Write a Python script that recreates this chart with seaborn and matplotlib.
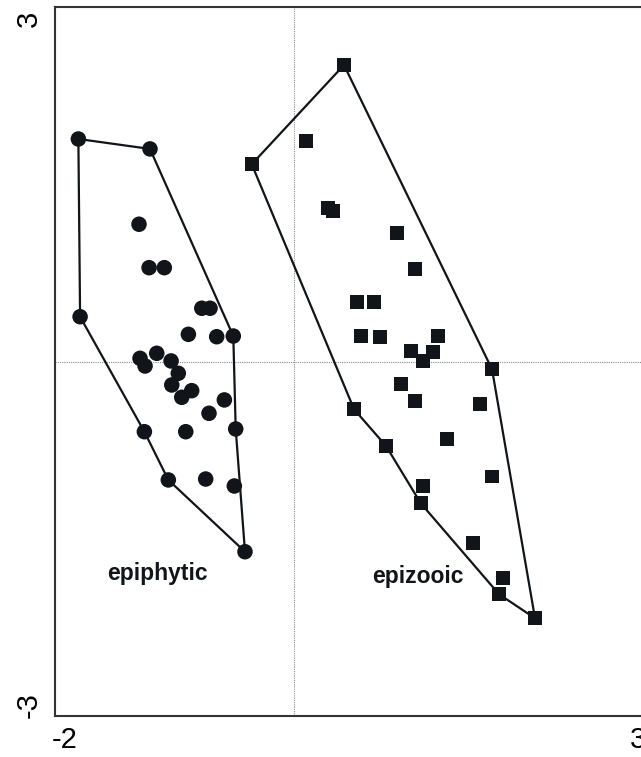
import matplotlib
matplotlib.use("Agg")
import matplotlib.pyplot as plt
import numpy as np
import pandas as pd
import seaborn as sns

# ordination scores
epiphytic_x = [-1.882, -1.257, -1.353, -1.265, -1.132, -1.867, -0.805, -0.733, -0.922, -0.675,
               -0.530, -1.344, -1.300, -1.198, -1.073, -1.010, -1.067, -0.893, -0.980, -0.608,
               -0.742, -1.306, -0.945, -0.509, -1.097, -0.771, -0.521, -0.428]
epiphytic_y = [1.951, 1.864, 1.205, 0.825, 0.825, 0.396, 0.470, 0.470, 0.242, 0.221,
               0.227, 0.032, -0.035, 0.076, 0.009, -0.099, -0.201, -0.251, -0.309, -0.332,
               -0.449, -0.610, -0.610, -0.586, -1.032, -1.024, -1.085, -1.660]
epiphytic_hull = [0, 1, 10, 23, 27, 24, 21, 5, 0]

epizooic_x = [0.436, -0.369, 0.102, 0.299, 0.338, 0.901, 1.056, 0.552, 0.701, 0.582,
              0.750, 1.254, 1.018, 1.216, 1.123, 1.728, 0.934, 1.056, 1.623, 0.524,
              1.338, 0.803, 1.725, 1.123, 1.106, 1.565, 1.821, 1.789, 2.103]
epizooic_y = [2.598, 1.730, 1.936, 1.345, 1.324, 1.126, 0.811, 0.528, 0.522, 0.227,
              0.221, 0.227, 0.099, 0.090, 0.011, -0.064, -0.195, -0.339, -0.370, -0.414,
              -0.676, -0.735, -1.003, -1.085, -1.236, -1.581, -1.892, -2.032, -2.242]
epizooic_hull = [0, 15, 28, 27, 24, 21, 19, 1, 0]

x_ticks = [-2, -1, 0, 1, 2, 3]
x_labels = ["-2", "", "", "", "", "3"]
y_ticks = [-3, -2, -1, 0, 1, 2, 3]
y_labels = ["-3", "", "", "", "", "", "3"]

sns.set_style("white")
plt.rcParams["font.family"] = ["Liberation Sans", "DejaVu Sans"]

ink = "#111419"
epi = pd.DataFrame({"x": epiphytic_x, "y": epiphytic_y})
zoo = pd.DataFrame({"x": epizooic_x, "y": epizooic_y})

fig = plt.figure(figsize=(6.41, 7.57), dpi=100)
ax = fig.add_axes([0.0858, 0.0542, 0.9142, 0.9366])

ax.axvline(0, color="#8a8a8a", lw=0.8, ls=(0, (1, 1)), zorder=1)
ax.axhline(0, color="#8a8a8a", lw=0.8, ls=(0, (1, 1)), zorder=1)

for df, hull in [(epi, epiphytic_hull), (zoo, epizooic_hull)]:
    h = df.iloc[hull]
    ax.plot(h["x"], h["y"], color=ink, lw=1.6, zorder=2)

sns.scatterplot(data=epi, x="x", y="y", marker="o", s=125, color=ink,
                edgecolor="none", ax=ax, zorder=3)
sns.scatterplot(data=zoo, x="x", y="y", marker="s", s=98, color=ink,
                edgecolor="none", ax=ax, zorder=3)

ax.text(-1.195, -1.85, "epiphytic", ha="center", va="center",
        fontsize=16.5, fontweight="bold", color=ink)
ax.text(1.078, -1.88, "epizooic", ha="center", va="center",
        fontsize=16.5, fontweight="bold", color=ink)

ax.set_xlim(-2.086, 3.028)
ax.set_ylim(-3.097, 3.106)
ax.set_xticks(x_ticks)
ax.set_xticklabels(x_labels)
ax.set_yticks(y_ticks)
ax.set_yticklabels(y_labels, rotation=90, va="center")
ax.set_xlabel("")
ax.set_ylabel("")
ax.tick_params(direction="inout", length=7, width=1.1, color="#333333",
               labelsize=21, labelcolor="#000000")
ax.tick_params(axis="x", pad=4)
ax.tick_params(axis="y", pad=5)

for side in ["left", "bottom", "top"]:
    ax.spines[side].set_color("#333333")
    ax.spines[side].set_linewidth(1.5)
ax.spines["right"].set_visible(False)

fig.savefig("out.png", dpi=100)
